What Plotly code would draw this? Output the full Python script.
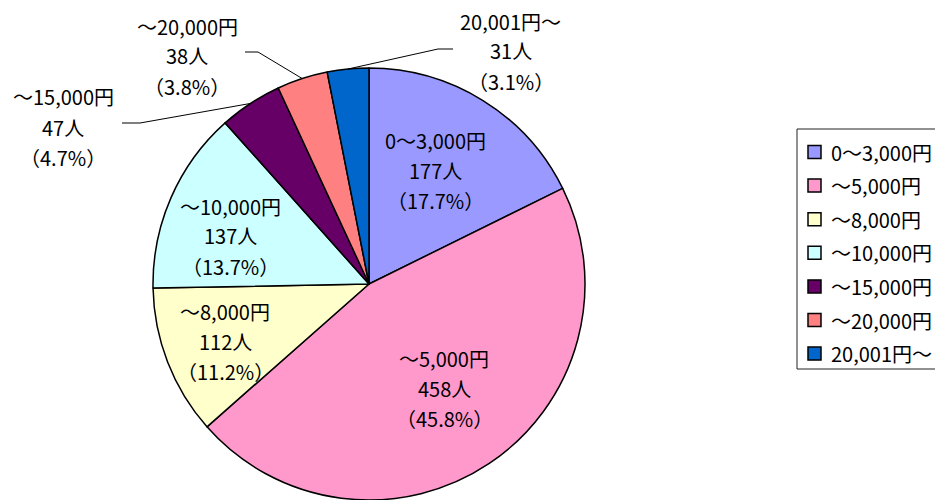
import math
import plotly.graph_objects as go

# ---- data ----
CATEGORIES = ["0～3,000円", "～5,000円", "～8,000円", "～10,000円", "～15,000円", "～20,000円", "20,001円～"]
COUNTS = [177, 458, 112, 137, 47, 38, 31]
PERCENTS = [17.7, 45.8, 11.2, 13.7, 4.7, 3.8, 3.1]
COLORS = ["#9999FF", "#FF99CC", "#FFFFCC", "#CCFFFF", "#660066", "#FF8080", "#0066CC"]

# ---- layout / style ----
W, H = 943, 500
OFF = 8  # page body margin
CX, CY, R = 369, 284, 216
FONT = "Noto Sans CJK JP"
FS = 20
LINE_GAP = 30
# label block centers (px, screen coords)
LABEL_POS = [(435, 170), (444, 388), (225, 341), (230, 236), (63, 127), (187, 56), (511, 51)]
# leader lines: label-side points (px) for outside labels
LEADERS = {4: [(122, 123), (140, 123)], 5: [(245, 52), (258, 52)], 6: [(453, 49), (438, 49)]}


def px(x):
    return (x - OFF) / W


def py(y):
    return 1 - (y - OFF) / H


fig = go.Figure()
fig.add_trace(go.Pie(
    labels=CATEGORIES, values=COUNTS, sort=False, direction="clockwise",
    marker=dict(colors=COLORS, line=dict(color="black", width=1.5)),
    textinfo="none", hoverinfo="label+value+percent", showlegend=False,
    domain=dict(x=[px(CX - R), px(CX + R)], y=[py(CY + R), py(CY - R)]),
))

annotations = []
shapes = []
for i, cat in enumerate(CATEGORIES):
    lx, ly = LABEL_POS[i]
    lines = [cat, f"{COUNTS[i]}人", f"（{PERCENTS[i]}%）"]
    for k, t in enumerate(lines):
        annotations.append(dict(
            x=px(lx), y=py(ly + (k - 1) * LINE_GAP), xref="paper", yref="paper",
            text=t, showarrow=False, xanchor="center", yanchor="middle",
            font=dict(family=FONT, size=FS, color="black")))

# leader lines to pie edge at the slice mid-angle
total = sum(COUNTS)
cum = 0
mids = []
for v in COUNTS:
    mids.append((cum + v / 2) / total * 360)
    cum += v
for i, pts in LEADERS.items():
    a = math.radians(mids[i])
    ex, ey = CX + R * math.sin(a), CY - R * math.cos(a)
    seq = pts + [(ex, ey)]
    for (x0, y0), (x1, y1) in zip(seq[:-1], seq[1:]):
        shapes.append(dict(type="line", xref="paper", yref="paper",
                           x0=px(x0), y0=py(y0), x1=px(x1), y1=py(y1),
                           line=dict(color="black", width=1)))

# manual legend
LEG_X, LEG_TOP, LEG_BOT = 797, 129, 369
ROW0, ROW_GAP = 152, 33.6
shapes.append(dict(type="rect", xref="paper", yref="paper",
                   x0=px(LEG_X), y0=py(LEG_TOP), x1=px(LEG_X + 170), y1=py(LEG_BOT),
                   line=dict(color="#222222", width=1), fillcolor="rgba(0,0,0,0)"))
for i, cat in enumerate(CATEGORIES):
    yc = ROW0 + i * ROW_GAP
    shapes.append(dict(type="rect", xref="paper", yref="paper",
                       x0=px(808), y0=py(yc - 6.5), x1=px(821), y1=py(yc + 6.5),
                       line=dict(color="black", width=1.5), fillcolor=COLORS[i]))
    annotations.append(dict(x=px(829), y=py(yc), xref="paper", yref="paper",
                            text=cat, showarrow=False, xanchor="left", yanchor="middle",
                            font=dict(family=FONT, size=FS, color="black")))

fig.update_layout(
    width=W, height=H, margin=dict(l=0, r=0, t=0, b=0),
    paper_bgcolor="white", plot_bgcolor="white",
    annotations=annotations, shapes=shapes, showlegend=False,
    font=dict(family=FONT, size=FS, color="black"),
)
fig.write_html("out.html")
